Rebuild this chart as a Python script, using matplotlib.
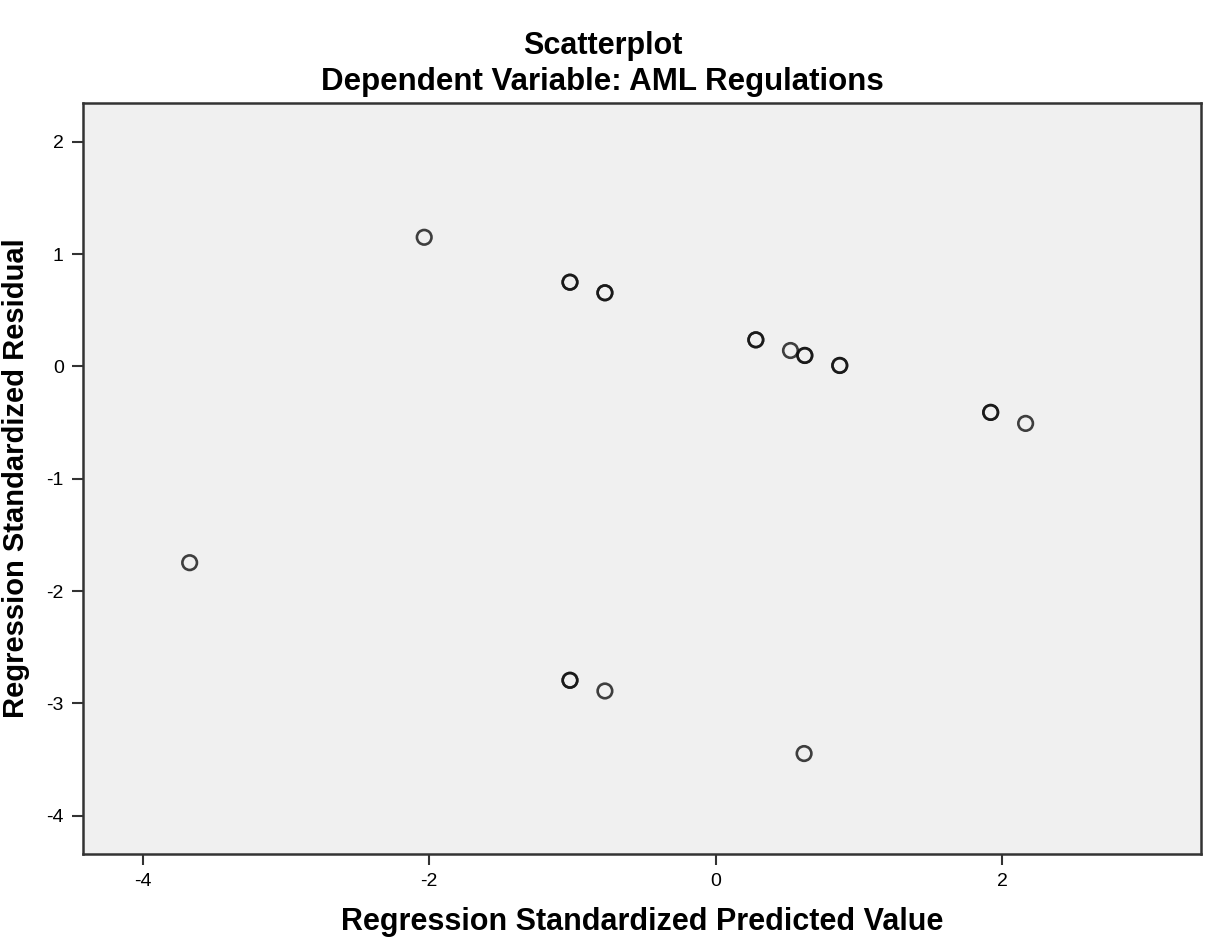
import matplotlib
matplotlib.use("Agg")
import matplotlib.pyplot as plt

# standardized predicted value (x) vs standardized residual (y)
# repeated rows are cases that fall on the same spot (drawn darker in SPSS)
pred = [-3.673, -2.035, -1.017, -1.017, -0.773, -0.773, 0.281, 0.281,
        0.523, 0.623, 0.623, 0.867, 0.867, 1.921, 1.921, 2.165,
        -1.017, -1.017, -0.773, 0.618]
resid = [-1.747, 1.150, 0.750, 0.750, 0.656, 0.656, 0.237, 0.237,
         0.142, 0.098, 0.098, 0.009, 0.009, -0.409, -0.409, -0.507,
         -2.794, -2.794, -2.889, -3.446]

xticks = [-4, -2, 0, 2]
yticks = [-4, -3, -2, -1, 0, 1, 2]

plt.rcParams["font.family"] = ["Liberation Sans", "DejaVu Sans"]
plt.rcParams["axes.unicode_minus"] = False

fig = plt.figure(figsize=(12.05, 9.48), dpi=100)
ax = fig.add_axes([0.0691, 0.0992, 0.9276, 0.7921])
ax.set_facecolor("#f0f0f0")

ax.scatter(pred, resid, s=110, facecolors="none", edgecolors="#111111",
           linewidths=1.9, alpha=0.8, zorder=3)

ax.set_xlim(-4.416, 3.39)
ax.set_ylim(-4.34, 2.345)
ax.set_xticks(xticks)
ax.set_yticks(yticks)
ax.tick_params(direction="out", length=8, width=1.5, color="#333333",
               labelsize=14, pad=6)
for sp in ax.spines.values():
    sp.set_color("#333333")
    sp.set_linewidth(1.8)

ax.set_xlabel("Regression Standardized Predicted Value", fontsize=22,
              fontweight="bold", labelpad=12)
ax.set_ylabel("Regression Standardized Residual", fontsize=21,
              fontweight="bold", labelpad=12)

fig.text(0.5, 0.951, "Scatterplot", ha="center", va="center",
         fontsize=22, fontweight="bold")
fig.text(0.5, 0.914, "Dependent Variable: AML Regulations", ha="center",
         va="center", fontsize=22.5, fontweight="bold")

fig.savefig("out.png", dpi=100)
